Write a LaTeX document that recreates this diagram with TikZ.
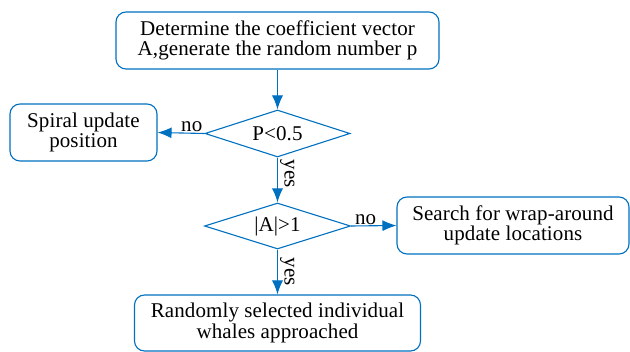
\documentclass[tikz,border=0pt]{standalone}
\usepackage{fontspec}
\setmainfont{Liberation Serif}[LetterSpace=0.5]
\usetikzlibrary{shapes.geometric,arrows.meta}
\definecolor{fblue}{HTML}{0070C0}
\begin{document}
\begin{tikzpicture}[x=1pt,y=-1pt,
  every node/.style={font=\fontsize{21}{20.5}\selectfont},
  box/.style={draw=fblue,line width=1.1pt,rounded corners=10pt,align=center,inner sep=0pt},
  dia/.style={draw=fblue,line width=1.1pt,diamond,aspect=3.1,inner sep=0pt},
  arr/.style={draw=fblue,line width=1.1pt,-{Latex[length=14pt,width=11pt]}},
  lab/.style={font=\fontsize{21}{20.5}\selectfont}]
\useasboundingbox (0,0) rectangle (630,352);
\node[box,minimum width=323pt,minimum height=57pt] (top) at (277.5,40.5) {Determine the coefficient vector\\A,generate the random number p};
\node[dia,minimum width=145pt,minimum height=47pt] (d1) at (277.5,133.5) {P<0.5};
\node[box,minimum width=147pt,minimum height=57pt] (sp) at (83.5,132.5) {Spiral update\\position};
\node[dia,minimum width=146pt,minimum height=46pt] (d2) at (277.5,226) {|A|>1};
\node[box,minimum width=232pt,minimum height=57pt] (se) at (513,225.5) {Search for wrap-around\\update locations};
\node[box,minimum width=286pt,minimum height=56pt] (bo) at (277.5,323) {Randomly selected individual\\whales approached};
\draw[arr] (top.south) -- (d1.north);
\draw[arr] (d1.west) -- node[lab,above,inner sep=1pt,pos=0.27] {no} (sp.east);
\draw[arr] (d1.south) -- node[lab,rotate=-90,anchor=south,inner sep=2pt,pos=0.36] {yes} (d2.north);
\draw[arr] (d2.east) -- node[lab,above,inner sep=1pt,pos=0.32] {no} (se.west);
\draw[arr] (d2.south) -- node[lab,rotate=-90,anchor=south,inner sep=2pt] {yes} (bo.north);
\end{tikzpicture}
\end{document}
